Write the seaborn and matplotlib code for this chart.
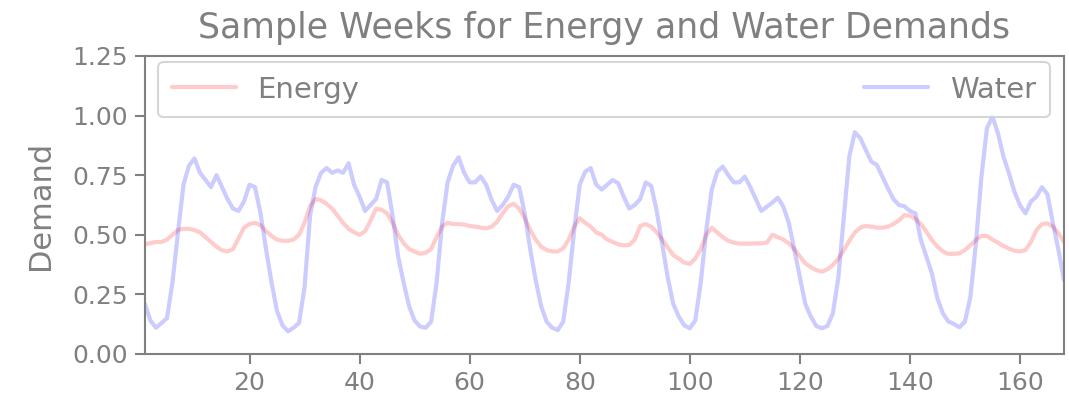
import numpy as np
import pandas as pd
import matplotlib
matplotlib.use("Agg")
import matplotlib.pyplot as plt
import seaborn as sns

hours = list(range(1, 169))

energy = [
    0.46, 0.465, 0.47, 0.47, 0.48, 0.50, 0.52, 0.525, 0.525, 0.52,
    0.51, 0.49, 0.47, 0.45, 0.435, 0.43, 0.44, 0.485, 0.53, 0.545,
    0.55, 0.54, 0.515, 0.495, 0.48, 0.475, 0.475, 0.48, 0.50, 0.55,
    0.62, 0.65, 0.645, 0.63, 0.61, 0.58, 0.55, 0.525, 0.51, 0.50,
    0.515, 0.56, 0.61, 0.605, 0.59, 0.55, 0.50, 0.465, 0.44, 0.43,
    0.42, 0.425, 0.44, 0.49, 0.535, 0.55, 0.545, 0.545, 0.543, 0.537,
    0.534, 0.53, 0.527, 0.534, 0.555, 0.59, 0.62, 0.63, 0.61, 0.57,
    0.52, 0.48, 0.45, 0.436, 0.43, 0.43, 0.443, 0.48, 0.534, 0.57,
    0.55, 0.534, 0.51, 0.50, 0.48, 0.47, 0.46, 0.456, 0.457, 0.48,
    0.537, 0.545, 0.534, 0.51, 0.48, 0.447, 0.415, 0.40, 0.383, 0.378,
    0.40, 0.44, 0.50, 0.53, 0.51, 0.49, 0.475, 0.467, 0.463, 0.463,
    0.463, 0.464, 0.464, 0.467, 0.50, 0.49, 0.48, 0.464, 0.44, 0.41,
    0.38, 0.364, 0.352, 0.345, 0.355, 0.373, 0.40, 0.436, 0.475, 0.51,
    0.53, 0.537, 0.534, 0.53, 0.53, 0.534, 0.545, 0.56, 0.583, 0.58,
    0.567, 0.545, 0.513, 0.478, 0.45, 0.43, 0.42, 0.42, 0.422, 0.436,
    0.457, 0.478, 0.495, 0.495, 0.48, 0.467, 0.453, 0.442, 0.433, 0.43,
    0.436, 0.47, 0.52, 0.545, 0.548, 0.534, 0.506, 0.47,
]

water = [
    0.21, 0.14, 0.11, 0.13, 0.15, 0.30, 0.51, 0.71, 0.79, 0.82,
    0.76, 0.73, 0.70, 0.75, 0.70, 0.65, 0.61, 0.60, 0.64, 0.71,
    0.70, 0.59, 0.44, 0.30, 0.18, 0.12, 0.095, 0.11, 0.13, 0.28,
    0.58, 0.70, 0.76, 0.78, 0.76, 0.77, 0.76, 0.80, 0.71, 0.66,
    0.60, 0.625, 0.65, 0.73, 0.72, 0.58, 0.41, 0.30, 0.20, 0.14,
    0.115, 0.11, 0.135, 0.30, 0.55, 0.72, 0.79, 0.825, 0.76, 0.72,
    0.72, 0.745, 0.71, 0.646, 0.60, 0.625, 0.66, 0.71, 0.70, 0.59,
    0.44, 0.31, 0.20, 0.135, 0.11, 0.10, 0.135, 0.30, 0.52, 0.71,
    0.765, 0.78, 0.71, 0.69, 0.71, 0.73, 0.716, 0.66, 0.61, 0.625,
    0.65, 0.72, 0.705, 0.60, 0.46, 0.32, 0.21, 0.157, 0.12, 0.108,
    0.14, 0.30, 0.52, 0.69, 0.765, 0.786, 0.75, 0.72, 0.72, 0.744,
    0.70, 0.65, 0.60, 0.618, 0.635, 0.656, 0.618, 0.55, 0.436, 0.324,
    0.21, 0.157, 0.117, 0.108, 0.117, 0.17, 0.32, 0.576, 0.83, 0.93,
    0.905, 0.855, 0.807, 0.793, 0.744, 0.695, 0.65, 0.625, 0.62, 0.60,
    0.59, 0.478, 0.408, 0.338, 0.233, 0.17, 0.136, 0.126, 0.112, 0.136,
    0.24, 0.464, 0.744, 0.947, 0.996, 0.926, 0.828, 0.758, 0.68, 0.625,
    0.59, 0.64, 0.66, 0.70, 0.67, 0.548, 0.436, 0.31,
]

series_names = ["Energy", "Water"]
series_colors = ["#ff0000", "#0000ff"]

df = pd.DataFrame({"Hour": hours * 2,
                   "Demand": energy + water,
                   "Series": ["Energy"] * len(hours) + ["Water"] * len(hours)})

sns.set_style("white")
plt.rcParams["font.family"] = ["DejaVu Sans"]
grey = "#808080"

fig = plt.figure(figsize=(10.69, 3.98), dpi=100)
ax = fig.add_axes([0.1356, 0.1106, 0.8597, 0.7487])

sns.lineplot(data=df, x="Hour", y="Demand", hue="Series",
             palette=dict(zip(series_names, series_colors)),
             linewidth=3, alpha=0.2, ax=ax)

ax.set_xlim(1, 168)
ax.set_ylim(0, 1.25)
ax.set_xticks([20, 40, 60, 80, 100, 120, 140, 160])
ax.set_yticks([0, 0.25, 0.5, 0.75, 1.0, 1.25])
ax.set_yticklabels(["0.00", "0.25", "0.50", "0.75", "1.00", "1.25"])
ax.set_xlabel("")
ax.set_ylabel("Demand", fontsize=22, color=grey, labelpad=13)
ax.set_title("Sample Weeks for Energy and Water Demands", fontsize=25, color=grey, pad=13)

for s in ax.spines.values():
    s.set_color(grey)
    s.set_linewidth(1.5)
ax.tick_params(axis="both", colors=grey, labelcolor=grey, labelsize=18,
               length=7, width=1.5, direction="out", bottom=True, left=True, pad=5)

leg = ax.legend(loc="upper left", bbox_to_anchor=(0.014, 0.98, 0.971, 0), mode="expand",
                ncol=2, fontsize=21, frameon=True, fancybox=True,
                handlelength=2.2, handletextpad=0.75, borderaxespad=0, borderpad=0.47)
leg.get_frame().set_edgecolor("#cccccc")
leg.get_frame().set_linewidth(1.5)
for t in leg.get_texts():
    t.set_color(grey)
for h in leg.get_lines():
    h.set_linewidth(3)
    h.set_alpha(0.2)

fig.savefig("out.png", dpi=100)
